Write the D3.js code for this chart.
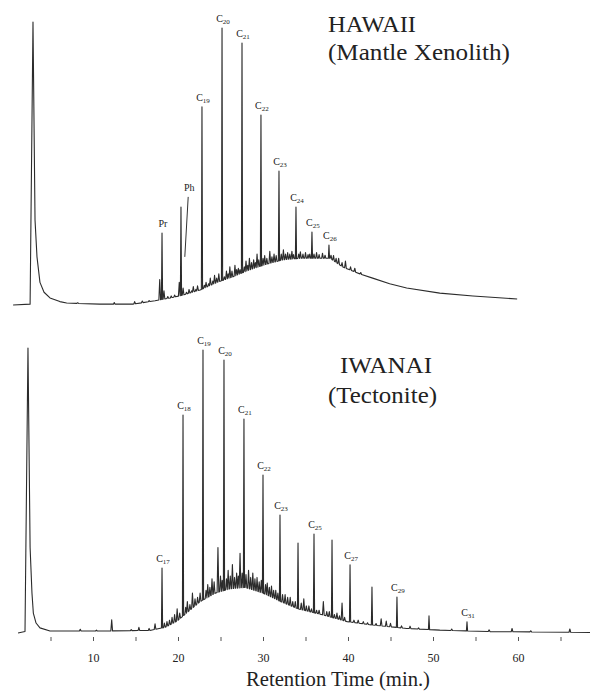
<!DOCTYPE html>
<html><head><meta charset="utf-8">
<script src="https://cdn.jsdelivr.net/npm/d3@7/dist/d3.min.js"></script>
<style>
body{margin:0;background:#fff}
svg{display:block}
</style>
</head><body>
<svg id="chart" width="590" height="691"></svg>
<script>
// ---------- DATA (retention time in min, signal in % of solvent peak) ----------
// HAWAII (Mantle Xenolith)
const hawaiiBaseline = [
  [0.6,0],[2.6,0.3],[2.94,100],[3.18,30],[3.41,17],[3.76,8],[4.24,4.5],[4.94,2.5],[6.1,1.2],[6.9,0.7],
  [10.8,0.3],[14.7,0.3],[17.3,1.5],[19.1,2.5],[20.6,3.5],[22.6,5.3],[24.6,8],[26.5,10],[28.5,12.5],
  [30.5,14.5],[32.4,16],[34.4,16.5],[37.9,16.5],[39.4,13.4],[41.4,11],[42.9,9.5],[44.9,7.5],
  [46.9,6],[50.8,4.2],[54.7,3.2],[59.9,2.1]
];
const hawaiiPeakTimes   = [18.12, 20.35, 22.82, 25.18, 27.53, 29.76, 31.88, 33.88, 35.76, 37.76];
const hawaiiPeakHeights = [25.4, 34.6, 70, 97.9, 92.6, 67.1, 47.3, 34.6, 25.8, 21.2];
const hawaiiPeakLabels  = ["Pr", "Ph", "C19", "C20", "C21", "C22", "C23", "C24", "C25", "C26"];
const hawaiiMinorTimes = [8.2,12.5,14.9,15.8,16.6,17.85,18.35,18.8,19.2,19.6,20.15,20.6,21.0,21.3,21.6,21.8,22.1,22.3,
  23.1,23.3,23.6,23.8,24.1,24.3,24.55,24.8,25.45,25.7,25.9,26.1,26.35,26.7,26.9,27.1,27.3,27.8,28.0,28.2,28.4,
  28.65,28.9,29.1,29.3,29.5,30.0,30.2,30.45,30.8,31.05,31.3,31.55,32.15,32.4,32.65,32.9,33.15,33.4,33.6,34.2,
  34.4,34.7,35.0,35.3,35.5,36.0,36.3,36.6,37.0,37.3,38.0,38.3,38.6,38.9,39.3,39.7,40.3,40.8,41.5];
const hawaiiMinorHeights = [0.8,0.9,1.2,1.4,1.6,9,5,3,3.2,3.5,8,6,4.5,5.5,5,6.5,5.5,6.8,
  7,8,7.5,9.5,8.5,10.5,9.5,11,10,12,11,13.5,12,14,12.5,13,12.5,13.5,15.5,14,16.5,
  15,16,15,18,16,16.5,17.5,16.5,19,17,18,17.5,18,19.5,18,18.5,18,19,17.8,18,
  18.8,18,18.5,17.8,18,18,18.5,17.8,18.3,17.6,17.6,17.5,16.5,16.5,15,15.5,13.5,13,11.5];
const phLeader = [[21.2, 38.2], [20.8, 17]];

// IWANAI (Tectonite)
const iwanaiBaseline = [
  [1.18,0],[2.0,0.5],[2.35,100],[2.6,30],[2.82,14],[2.98,7],[3.3,3.5],[3.76,1.8],[4.94,0.7],[10.8,0.7],
  [16.7,0.9],[18.5,2],[19.9,4.2],[21.4,8],[22.6,11],[24.4,14],[26.1,15.5],[27.9,16],[30.0,14],
  [32.1,11],[34.1,8.5],[37.1,6.3],[39.9,4],[42.9,2.8],[46.9,1.6],[50.8,1],[56.7,0.5],[68.5,0.2]
];
const iwanaiPeakTimes   = [18.12, 20.59, 22.94, 25.41, 27.76, 30.0, 32.0, 34.12, 36.0, 38.12, 40.24, 42.82, 45.76, 49.53, 54.0];
const iwanaiPeakHeights = [22.8, 76.5, 99.3, 95.8, 75.1, 55.4, 41.4, 31.6, 34.7, 32.6, 23.9, 16.1, 12.6, 6.0, 3.9];
const iwanaiPeakLabels  = ["C17", "C18", "C19", "C20", "C21", "C22", "C23", "", "C25", "", "C27", "", "C29", "", "C31"];
const iwanaiMinorTimes = [8.5,10.4,12.2,14.5,15.4,16.6,17.3,18.4,18.7,19.0,19.3,19.6,19.9,20.2,20.9,21.1,21.4,21.7,22.0,
  22.3,22.6,23.3,23.5,23.75,24.0,24.25,24.7,25.0,25.2,25.7,25.9,26.15,26.4,26.65,26.9,27.1,27.3,27.55,28.0,28.3,
  28.55,28.8,29.05,29.3,29.55,29.8,30.3,30.5,30.75,31.0,31.25,31.5,31.75,32.3,32.6,32.9,33.2,33.5,33.8,34.5,34.8,
  35.1,35.4,35.7,36.3,36.6,37.1,37.5,37.8,38.4,38.7,39.0,39.3,39.6,40.7,41.2,41.8,42.3,43.3,43.9,44.5,45.0,46.3,
  47.3,48.3,52.2,56.6,59.3,61.5,66.1];
const iwanaiMinorHeights = [1.3,1.0,4.6,1.2,2,1.6,3.2,3.5,4,4.5,5.5,6.5,8.5,7,9,11,10,14,12,
  12.5,14,15,17,16,19,18,30,20,18.5,19,22,20,24,19.5,21,20,28,21,20.5,22,
  19.5,21,19,19.5,18,18.5,17,17.5,16,16.5,15,15,14,13.5,13.5,12.5,12.5,11,11,10.5,12,
  9.5,9.5,8.5,8,8,11,7.5,7.5,6.5,7,6,10.5,5.5,4.5,4.5,4,3.6,3.3,5,4.2,3.4,2.5,
  2.4,1.8,1.4,1.1,1.6,0.8,1.4];

const tickValues = [5,10,15,20,25,30,35,40,45,50,55,60,65];
const tickLabels = [10,20,30,40,50,60];
const xTitle = "Retention Time (min.)";
const hawaiiTitle = ["HAWAII", "(Mantle Xenolith)"];
const iwanaiTitle = ["IWANAI", "(Tectonite)"];

const SERIF = "'Liberation Serif','Times New Roman',Times,'DejaVu Serif',serif";

// ---------- SCALES ----------
const svg = d3.select("#chart").attr("font-family", SERIF);
const x = d3.scaleLinear().domain([10, 60]).range([93, 518]);
const yTop = d3.scaleLinear().domain([0, 100]).range([305, 22]);
const yBot = d3.scaleLinear().domain([0, 100]).range([633, 348]);

function baseAt(base, t) {
  const i = d3.bisector(d => d[0]).right(base, t);
  if (i <= 0) return base[0][1];
  if (i >= base.length) return base[base.length - 1][1];
  const a = base[i - 1], b = base[i];
  return a[1] + (b[1] - a[1]) * (t - a[0]) / (b[0] - a[0]);
}
function buildTrace(base, spikes) {
  const pts = base.filter(p => !spikes.some(s => Math.abs(p[0] - s[0]) <= s[2]));
  spikes.forEach(s => {
    pts.push([s[0] - s[2], baseAt(base, s[0] - s[2])]);
    pts.push([s[0], s[1]]);
    pts.push([s[0] + s[2], baseAt(base, s[0] + s[2])]);
  });
  pts.sort((a, b) => a[0] - b[0]);
  return pts;
}
function spikesFrom(times, heights, w) { return times.map((t, i) => [t, heights[i], w]); }

function addText(sel, px, py, size) {
  return sel.append("text").attr("x", px).attr("y", py)
    .attr("font-family", SERIF).attr("font-size", size).attr("fill", "#222");
}
function addLabel(g, name, px, py) {
  if (!name) return;
  const m = name.match(/^C(\d+)$/);
  const t = addText(g, px, py, 10).attr("text-anchor", "middle");
  if (m) {
    t.append("tspan").text("C");
    t.append("tspan").attr("font-size", 7).attr("dy", 2).text(m[1]);
  } else t.text(name);
}

function drawPanel(base, pT, pH, pL, mT, mH, y, anchors) {
  const g = svg.append("g");
  const spikes = spikesFrom(pT, pH, 0.07).concat(spikesFrom(mT, mH, 0.1));
  const pts = buildTrace(base, spikes);
  const line = d3.line().x(d => x(d[0])).y(d => y(d[1]));
  g.append("path").attr("d", line(pts)).attr("fill", "none")
    .attr("stroke", "#2b2b2b").attr("stroke-width", 1.1).attr("stroke-linejoin", "round");
  pT.forEach((t, i) => {
    const a = (anchors && anchors[pL[i]]) || [t, pH[i]];
    addLabel(g, pL[i], x(a[0]) + 1, y(a[1]) - 6);
  });
  return g;
}

const gTop = drawPanel(hawaiiBaseline, hawaiiPeakTimes, hawaiiPeakHeights, hawaiiPeakLabels,
  hawaiiMinorTimes, hawaiiMinorHeights, yTop, { Ph: phLeader[0] });
gTop.append("line")
  .attr("x1", x(phLeader[0][0])).attr("y1", yTop(phLeader[0][1]))
  .attr("x2", x(phLeader[1][0])).attr("y2", yTop(phLeader[1][1]))
  .attr("stroke", "#333").attr("stroke-width", 1);

drawPanel(iwanaiBaseline, iwanaiPeakTimes, iwanaiPeakHeights, iwanaiPeakLabels,
  iwanaiMinorTimes, iwanaiMinorHeights, yBot, null);

// ---------- AXIS ----------
const axis = d3.axisBottom(x).tickValues(tickValues).tickSize(4).tickPadding(12)
  .tickFormat(d => tickLabels.includes(d) ? d : "");
const ga = svg.append("g").attr("transform", "translate(0,637)").call(axis)
  .attr("font-family", SERIF).attr("font-size", 12);
ga.select(".domain").remove();
ga.selectAll(".tick line").attr("stroke", "#555");
ga.selectAll(".tick text").attr("fill", "#222");

addText(svg, 246, 686, 20).attr("textLength", 184).attr("lengthAdjust", "spacingAndGlyphs").text(xTitle);

// ---------- TITLES ----------
addText(svg, 328, 32, 23).attr("textLength", 88).attr("lengthAdjust", "spacingAndGlyphs").text(hawaiiTitle[0]);
addText(svg, 328, 60, 23).attr("textLength", 182).attr("lengthAdjust", "spacingAndGlyphs").text(hawaiiTitle[1]);
addText(svg, 340, 373, 23).attr("textLength", 92).attr("lengthAdjust", "spacingAndGlyphs").text(iwanaiTitle[0]);
addText(svg, 328, 403, 23).attr("textLength", 109).attr("lengthAdjust", "spacingAndGlyphs").text(iwanaiTitle[1]);
</script>
</body></html>
